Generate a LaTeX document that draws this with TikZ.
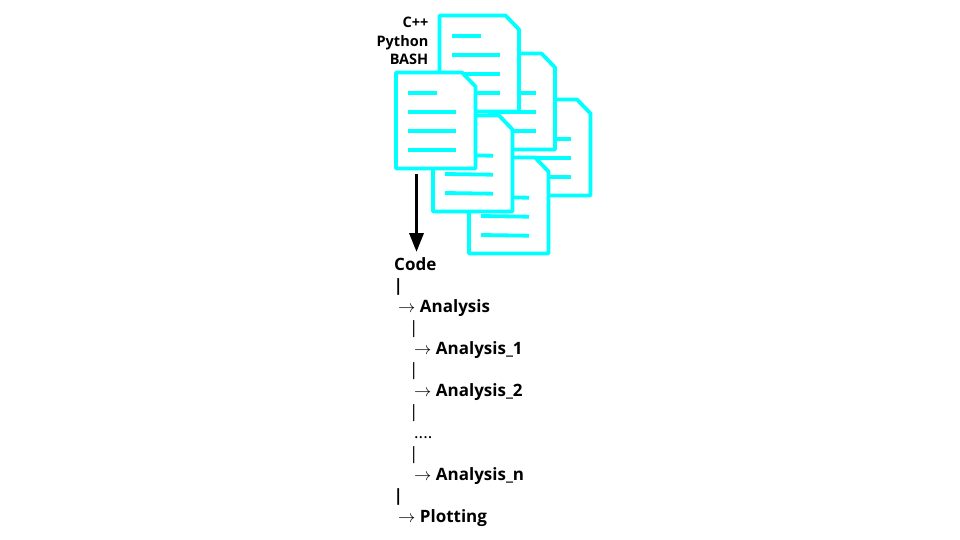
\documentclass[tikz,border=0pt]{standalone}
\usepackage{fontspec}
\setmainfont{Open Sans}
\usetikzlibrary{arrows.meta}
\definecolor{doccyan}{RGB}{0,255,255}
\tikzset{
  docline/.style={line width=3.8, color=doccyan, line join=round},
  treetext/.style={anchor=base west, inner sep=0, font=\fontsize{17}{17}\selectfont\bfseries},
  thintext/.style={anchor=base west, inner sep=0, font=\fontsize{17}{17}\selectfont},
  langtext/.style={anchor=base east, inner sep=0, font=\fontsize{14.5}{14.5}\selectfont\bfseries}
}
\begin{document}
\begin{tikzpicture}[x=1pt,y=-1pt]
\useasboundingbox (0,0) rectangle (960,540);
% documents, back to front
\foreach \docx/\docy/\tilt in {511/99.5/0,475.5/53.5/0,439.5/15.5/0,469/157.5/0.7,433/115.5/0.7,396/72.5/0}{
\begin{scope}[shift={(\docx,\docy)}]
\draw[docline, fill=white](0,0) -- (66,0) -- (79.5,14) -- (79.5,96) -- (0,96) -- cycle;
\draw[docline](12,20.5) -- (41,20.5);
\draw[docline](12,39.5) -- (60,39.5+\tilt);
\draw[docline](12,58.5) -- (60,58.5+\tilt);
\draw[docline](12,77.5) -- (60,77.5+\tilt);
\end{scope}
}
% languages
\node[langtext] (cpp) at (428.5,28) {C++};
\node[langtext] (python) at (428.5,46.5) {Python};
\node[langtext] (bash) at (428.5,65) {BASH};
% tree
\node[treetext] (code) at (394,270) {Code};
\node[treetext] (bara) at (393.5,291) {|};
\node[treetext] (analysis) at (398,312) {$\rightarrow$ Analysis};
\node[thintext] (barb) at (409,333) {|};
\node[treetext] (analysisa) at (414,354) {$\rightarrow$ Analysis\_1};
\node[thintext] (barc) at (409,375) {|};
\node[treetext] (analysisb) at (414,396) {$\rightarrow$ Analysis\_2};
\node[thintext] (bard) at (409,417) {|};
\node[thintext] (dots) at (414,438) {....};
\node[thintext] (bare) at (409,459) {|};
\node[treetext] (analysisn) at (414,480) {$\rightarrow$ Analysis\_n};
\node[treetext] (barf) at (393.5,501) {|};
\node[treetext] (plotting) at (398,522) {$\rightarrow$ Plotting};
% arrow
\coordinate (docend) at (416.5,174);
\coordinate (codetop) at (416.5,252);
\draw[line width=3.5, -{Triangle[length=19,width=14]}](docend) -- (codetop);
\end{tikzpicture}
\end{document}
